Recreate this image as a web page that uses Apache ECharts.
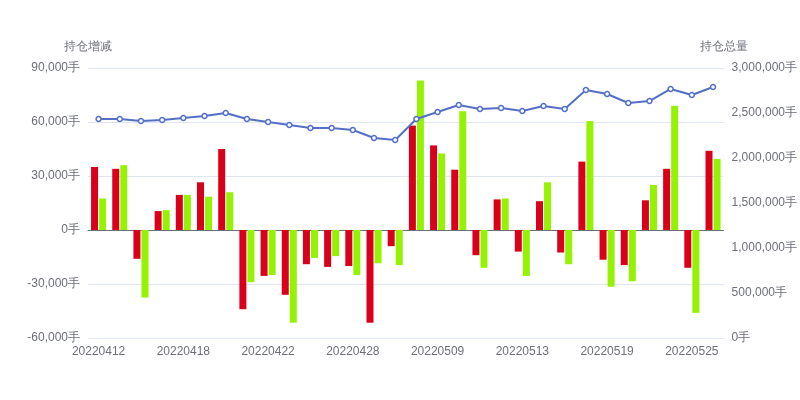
<!DOCTYPE html>
<html><head><meta charset="utf-8">
<script src="https://cdn.jsdelivr.net/npm/echarts@6/dist/echarts.min.js"></script>
<style>html,body{margin:0;padding:0}#c{width:800px;height:400px}</style>
</head><body><div id="c"></div>
<script>
const categories = ['20220412','20220413','20220414','20220415','20220418','20220419','20220420','20220421','20220422','20220425','20220426','20220427','20220428','20220429','20220505','20220506','20220509','20220510','20220511','20220512','20220513','20220516','20220517','20220518','20220519','20220520','20220523','20220524','20220525','20220526'];
const changeA = [35000,34000,-16000,10500,19500,26500,45000,-44000,-25500,-36000,-19000,-20500,-20000,-51500,-9000,58000,47000,33500,-14000,17000,-12000,16000,-12500,38000,-16500,-19500,16500,34000,-21000,44000];
const changeB = [17500,36000,-37500,11000,19500,18500,21000,-29000,-25000,-51500,-15500,-14500,-25000,-18500,-19500,83000,42500,66000,-21000,17500,-25500,26500,-19000,60500,-31500,-28500,25000,69000,-46000,39500];
const total = [2433000,2433000,2411000,2422000,2444000,2467000,2500000,2433000,2400000,2367000,2333000,2333000,2311000,2222000,2200000,2433000,2511000,2589000,2544000,2556000,2522000,2578000,2544000,2756000,2711000,2611000,2633000,2767000,2700000,2789000];
const chart = echarts.init(document.getElementById('c'));
const lab = {color:'#6e7079',fontSize:12};
chart.setOption({
  animation:false,
  grid:{left:88,right:71,top:68,bottom:62},
  xAxis:{type:'category',data:categories,axisLabel:{...lab,interval:3},axisTick:{alignWithLabel:false,interval:3},axisLine:{lineStyle:{color:'#6e7079'}}},
  yAxis:[
    {type:'value',name:'持仓增减',nameTextStyle:{color:'#6e7079',fontSize:12,align:'center'},min:-60000,max:90000,interval:30000,axisLabel:{...lab,formatter:v=>v.toLocaleString('en-US')+'手'},splitLine:{lineStyle:{color:'#e0e6f1'}}},
    {type:'value',name:'持仓总量',nameTextStyle:{color:'#6e7079',fontSize:12,align:'center'},min:0,max:3000000,interval:500000,axisLabel:{...lab,formatter:v=>v.toLocaleString('en-US')+'手'},splitLine:{show:false}}
  ],
  series:[
    {type:'bar',data:changeA,itemStyle:{color:'#d9001b'},barWidth:7,barGap:'15%'},
    {type:'bar',data:changeB,itemStyle:{color:'#95f204'},barWidth:7},
    {type:'line',yAxisIndex:1,data:total,symbol:'circle',symbolSize:5,itemStyle:{color:'#fff',borderColor:'#5470c6',borderWidth:1.5},lineStyle:{color:'#5470c6',width:2}}
  ]
});
</script></body></html>
